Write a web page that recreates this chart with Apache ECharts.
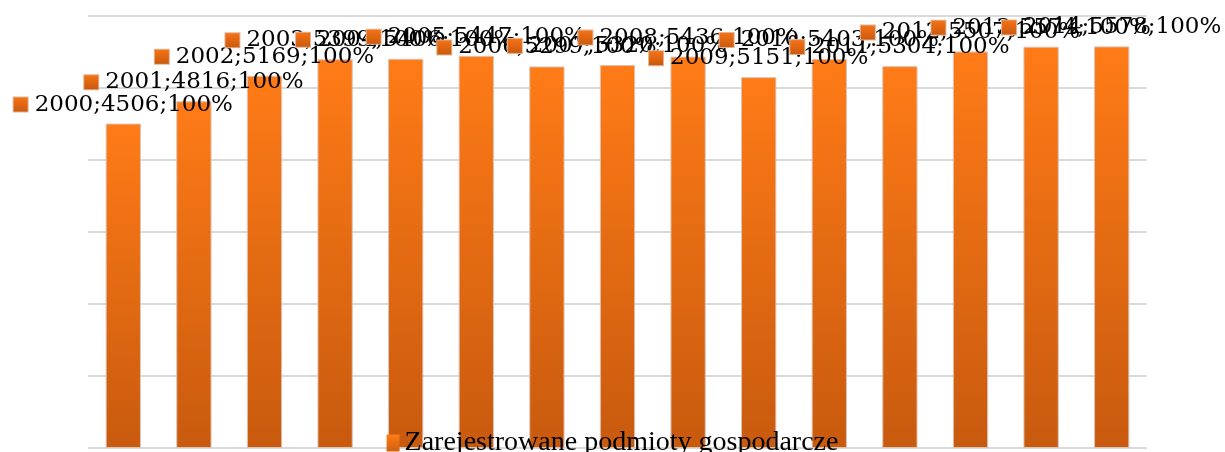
<!DOCTYPE html>
<html>
<head>
<meta charset="utf-8">
<script src="https://cdn.jsdelivr.net/npm/echarts@6/dist/echarts.min.js"></script>
<style>
html,body{margin:0;padding:0;background:#fff;}
#c{width:1225px;height:452px;}
</style>
</head>
<body>
<div id="c"></div>
<script>
const years = ['2000','2001','2002','2003','2004','2005','2006','2007','2008','2009','2010','2011','2012','2013','2014'];
const values = [4506,4816,5169,5399,5406,5447,5299,5320,5436,5151,5403,5304,5507,5574,5578];
const shares = [100,100,100,100,100,100,100,100,100,100,100,100,100,100,100];
const seriesName = 'Zarejestrowane podmioty gospodarcze';
const yTicks = {min:0, max:6000, interval:1000};

const barGrad = new echarts.graphic.LinearGradient(0,0,0,1,[
  {offset:0,color:'#FF7B17'},{offset:1,color:'#C85A0E'}]);
const markGrad = new echarts.graphic.LinearGradient(0,0,0,1,[
  {offset:0,color:'#F87416'},{offset:1,color:'#C8580E'}]);
const legGrad = new echarts.graphic.LinearGradient(0,0,0,1,[
  {offset:0,color:'#FF7B17'},{offset:1,color:'#D0600F'}]);

const chart = echarts.init(document.getElementById('c'));
chart.setOption({
  animation:false,
  grid:{left:88,right:78,top:16,bottom:4,containLabel:false},
  legend:{
    data:[seriesName],
    bottom:-10,
    left:'center',
    icon:'rect',
    itemWidth:13,itemHeight:17,itemGap:6,
    z:20,
    itemStyle:{color:legGrad,borderWidth:0},
    textStyle:{fontFamily:'Liberation Serif',fontSize:28,color:'#000'}
  },
  xAxis:{
    type:'category',data:years,
    axisLine:{show:false},axisTick:{show:false},axisLabel:{show:false}
  },
  yAxis:{
    type:'value',min:yTicks.min,max:yTicks.max,interval:yTicks.interval,
    axisLabel:{show:false},axisLine:{show:false},axisTick:{show:false},
    splitLine:{lineStyle:{color:'#d9d9d9',width:2}}
  },
  series:[{
    name:seriesName,type:'bar',data:values,barWidth:'50%',
    itemStyle:{color:barGrad,borderColor:'#dcc3b4',borderWidth:1},
    label:{
      show:true,position:'top',distance:7,
      formatter:function(p){return '{m|}{t|'+years[p.dataIndex]+';'+p.value+';'+shares[p.dataIndex]+'%}';},
      rich:{
        m:{width:14,height:14,backgroundColor:markGrad,borderColor:'#e3b596',borderWidth:1},
        t:{fontFamily:'DejaVu Serif',fontSize:23,color:'#000',padding:[0,0,0,7],lineHeight:24}
      }
    }
  }]
});
</script>
</body>
</html>
